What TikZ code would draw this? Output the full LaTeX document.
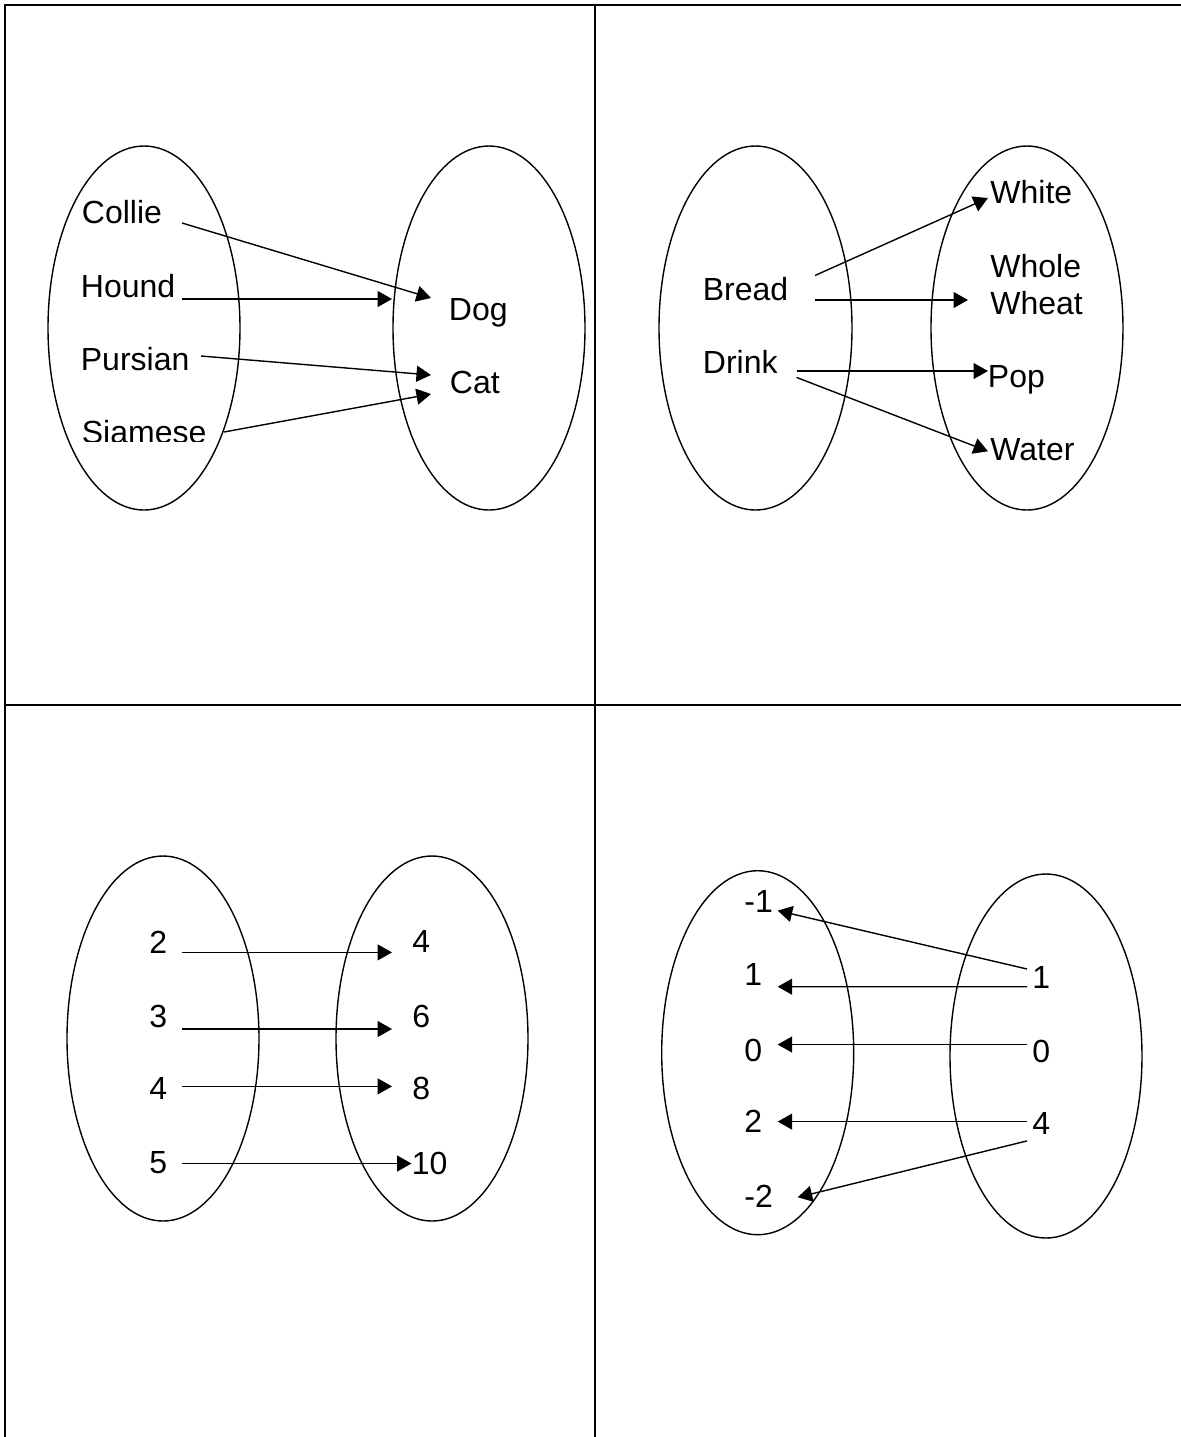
\documentclass[tikz,border=0pt]{standalone}
\usepackage{fontspec}
\setmainfont{Liberation Sans}
\usetikzlibrary{arrows.meta,calc}
\begin{document}
\begin{tikzpicture}[x=0.5pt,y=-0.5pt,
  grid/.style={line width=1pt},
  setline/.style={line width=0.7pt},
  lbl/.style={anchor=base west,inner sep=0pt,font=\fontsize{16}{18.75}\selectfont},
  maparrow/.style={line width=0.7pt,-{Triangle[length=7.25pt,width=8pt]}}]
\useasboundingbox (0,0) rectangle (1181,1437);
% grid
\draw[grid] (5,1437) -- (5,4.8) -- (1181,4.8);
\draw[grid] (595,4.8) -- (595,1437);
\draw[grid] (5,704.7) -- (1181,704.7);
% ---------- panel 1 ----------
\draw[setline] (144,328) ellipse [x radius=96, y radius=182];
\draw[setline] (489,328) ellipse [x radius=96, y radius=182];
\node[lbl] (collie) at (81.5,223.6) {Collie};
\node[lbl] (hound) at (80.5,297) {Hound};
\node[lbl] (pursian) at (80.5,370.5) {Pursian};
\begin{scope}
\clip (0,0) rectangle (595,441);
\node[lbl] (siamese) at (81.5,443.5) {Siamese};
\end{scope}
\node[lbl] (dog) at (448.5,320) {Dog};
\node[lbl] (cat) at (449.5,393.5) {Cat};
\draw[maparrow] ($(collie.base west)+(100.5,-0.6)$) -- ($(dog.base west)+(-17.5,-22)$);
\draw[maparrow] ($(hound.base west)+(101.5,2)$) -- ($(dog.base west)+(-56.5,-21)$);
\draw[maparrow] ($(pursian.base west)+(120.5,-14.5)$) -- ($(cat.base west)+(-18.5,-18.5)$);
\draw[maparrow] ($(siamese.base west)+(142.5,-11.5)$) -- ($(cat.base west)+(-18.5,0.5)$);
% ---------- panel 2 ----------
\draw[setline] (755.5,328) ellipse [x radius=96.5, y radius=182];
\draw[setline] (1027,328) ellipse [x radius=96, y radius=182];
\node[lbl] (bread) at (702.5,300.7) {Bread};
\node[lbl] (drink) at (702.5,373) {Drink};
\node[lbl] (white) at (990,203.4) {White};
\node[lbl] (ww) at (990,277) {\begin{tabular}[t]{@{}l@{}}Whole\\Wheat\end{tabular}};
\node[lbl] (pop) at (987.5,387) {Pop};
\node[lbl] (water) at (990,460.5) {Water};
\draw[maparrow] ($(bread.base west)+(112.5,-25.2)$) -- ($(white.base west)+(-2,-5.4)$);
\draw[maparrow] ($(bread.base west)+(112.5,-0.7)$) -- ($(ww.base west)+(-22,23)$);
\draw[maparrow] ($(drink.base west)+(94,-2)$) -- ($(pop.base west)+(0.5,-16)$);
\draw[maparrow] ($(drink.base west)+(94,4.4)$) -- ($(water.base west)+(-2,-9.2)$);
% ---------- panel 3 ----------
\draw[setline] (163,1038.5) ellipse [x radius=96, y radius=182.5];
\draw[setline] (432,1038.5) ellipse [x radius=96, y radius=182.5];
\node[lbl] (a2) at (149,953) {2};
\node[lbl] (a3) at (149,1027.6) {3};
\node[lbl] (a4) at (149,1099.5) {4};
\node[lbl] (a5) at (149,1173.8) {5};
\node[lbl] (b4) at (412,952.4) {4};
\node[lbl] (b6) at (412,1027) {6};
\node[lbl] (b8) at (412,1099.5) {8};
\node[lbl] (b10) at (411.5,1174) {10};
\draw[maparrow] ($(a2.base west)+(33,-0.6)$) -- ($(b4.base west)+(-20,0)$);
\draw[maparrow] ($(a3.base west)+(33,1.4)$) -- ($(b6.base west)+(-20,2)$);
\draw[maparrow] ($(a4.base west)+(33,-13.1)$) -- ($(b8.base west)+(-20,-13.1)$);
\draw[maparrow] ($(a5.base west)+(33,-10.3)$) -- ($(b10.base west)+(0,-10.5)$);
% ---------- panel 4 ----------
\draw[setline] (757.7,1052.7) ellipse [x radius=96, y radius=182];
\draw[setline] (1046,1056) ellipse [x radius=96, y radius=182];
\node[lbl] (cm1) at (744,912.5) {-1};
\node[lbl] (c1) at (744,985.8) {1};
\node[lbl] (c0) at (744,1061) {0};
\node[lbl] (c2) at (744,1132.4) {2};
\node[lbl] (cm2) at (744,1207.6) {-2};
\node[lbl] (d1) at (1032,988) {1};
\node[lbl] (d0) at (1032,1062) {0};
\node[lbl] (d4) at (1032,1134.8) {4};
\draw[maparrow] ($(d1.base west)+(-5,-19)$) -- ($(cm1.base west)+(33.7,-1.9)$);
\draw[maparrow] ($(d1.base west)+(-5,-1.3)$) -- ($(c1.base west)+(33.7,0.9)$);
\draw[maparrow] ($(d0.base west)+(-5,-17.5)$) -- ($(c0.base west)+(33.7,-16.5)$);
\draw[maparrow] ($(d4.base west)+(-5,-13.2)$) -- ($(c2.base west)+(33.7,-10.8)$);
\draw[maparrow] ($(d4.base west)+(-5,6.1)$) -- ($(cm2.base west)+(53.7,-10.3)$);
\end{tikzpicture}
\end{document}
